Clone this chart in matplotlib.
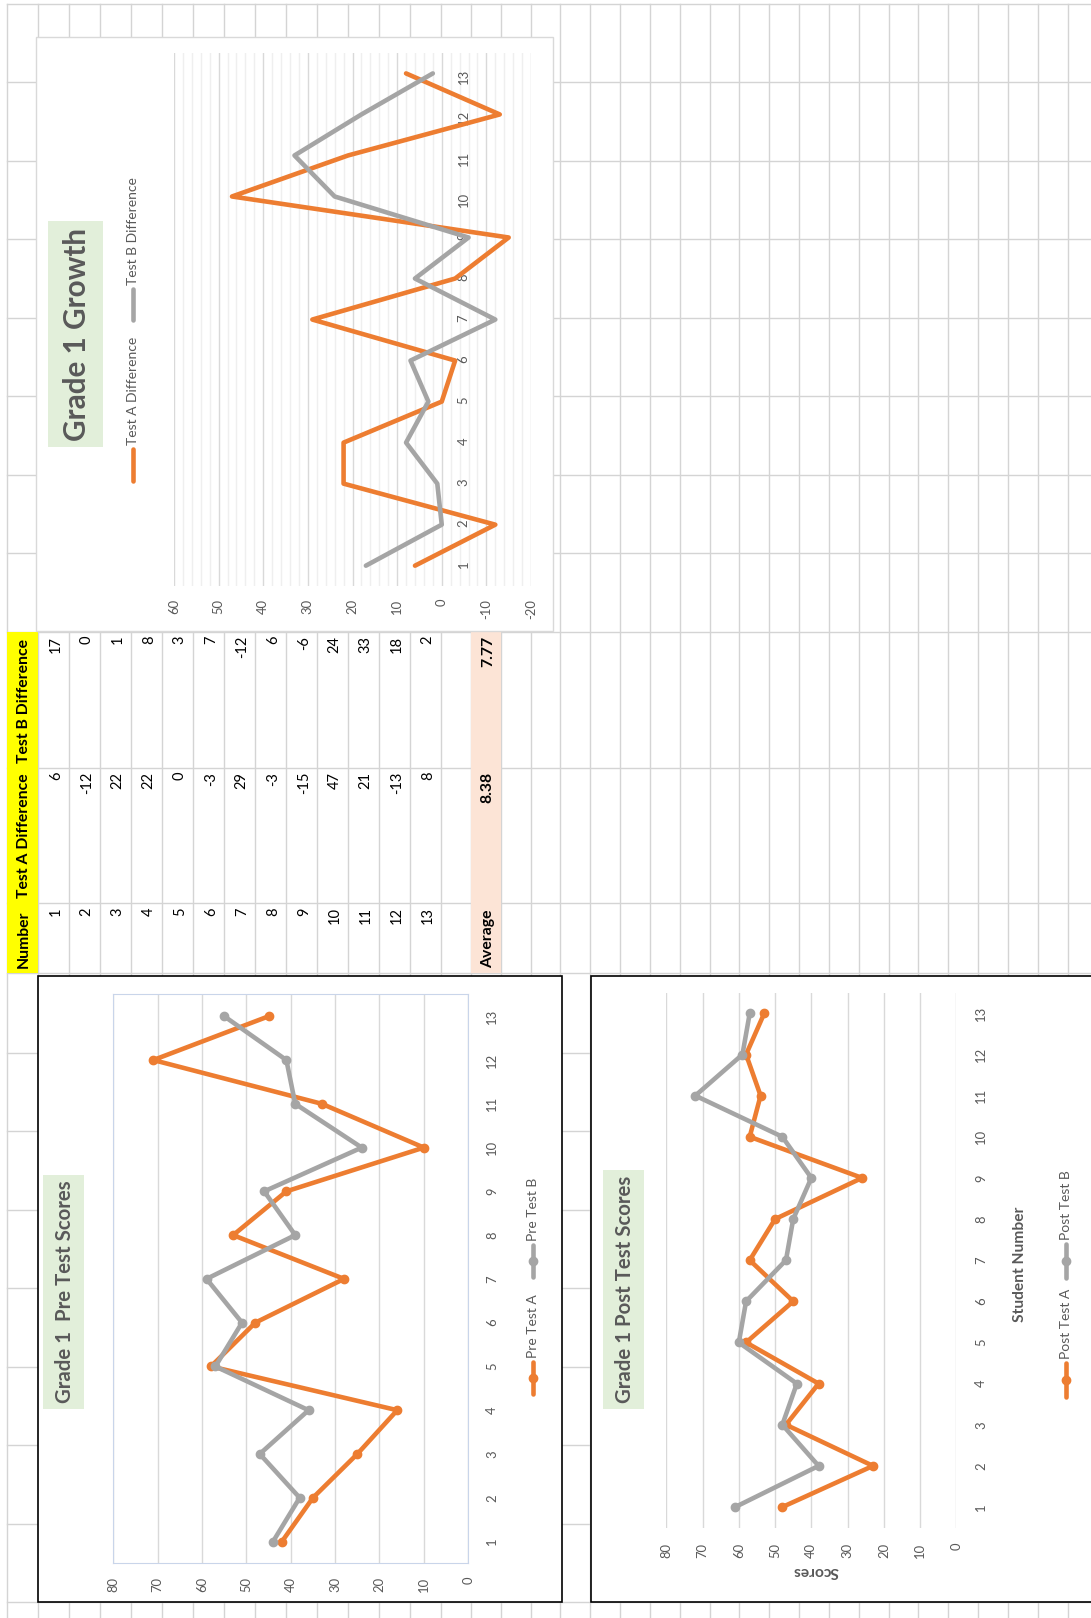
import numpy as np
import matplotlib.pyplot as plt
from matplotlib.patches import Rectangle

plt.rcParams['font.family'] = ['Lato', 'DejaVu Sans']
plt.rcParams['axes.unicode_minus'] = False

W, H = 1091, 1618

# ---- data ----
students = list(range(1, 14))
pre_a = [42, 35, 25, 16, 58, 48, 28, 53, 41, 10, 33, 71, 45]
pre_b = [44, 38, 47, 36, 57, 51, 59, 39, 46, 24, 39, 41, 55]
post_a = [48, 23, 47, 38, 58, 45, 57, 50, 26, 57, 54, 58, 53]
post_b = [61, 38, 48, 44, 60, 58, 47, 45, 40, 48, 72, 59, 57]
diff_a = [6, -12, 22, 22, 0, -3, 29, -3, -15, 47, 21, -13, 8]
diff_b = [17, 0, 1, 8, 3, 7, -12, 6, -6, 24, 33, 18, 2]
headers = ["Number", "Test A Difference", "Test B Difference"]

ORANGE = "#ED7D31"
GRAY = "#A5A5A5"
TXT = "#595959"
GRID = "#D4D4D4"

fig = plt.figure(figsize=(W / 100, H / 100), dpi=100)
renderer = fig.canvas.get_renderer()


def size_for(text, length, weight='normal', probe=20):
    # font size that makes `text` about `length` pixels long
    t = fig.text(0, 0, text, fontsize=probe, fontweight=weight)
    w = t.get_window_extent(renderer).width
    t.remove()
    return probe * length / w


bg = fig.add_axes([0, 0, 1, 1])
bg.set_xlim(0, W)
bg.set_ylim(H, 0)
bg.axis('off')

# spreadsheet grid (sheet is shown rotated 90 deg)
row_x = np.r_[7, 38.3 + 31.0 * np.arange(14), 470.9 + 29.83 * np.arange(21)]
col_y = np.r_[3.5 + 78.53 * np.arange(9), 767.7, 903.3, 973.3, 1052.6 + 78.5 * np.arange(8)]
for x in row_x:
    bg.plot([x, x], [col_y[0], H], color=GRID, lw=1.0, zorder=1)
for y in col_y:
    bg.plot([row_x[0], W], [y, y], color=GRID, lw=1.0, zorder=1)

# table
cell_fs = size_for("17", 17)
head_fs = size_for("Test A Difference", 124, 'bold')
bands = [(903.3, 973.3), (767.7, 903.3), (631.7, 767.7)]  # Number, Test A, Test B
bg.add_patch(Rectangle((row_x[0], 631.7), row_x[1] - row_x[0], 973.3 - 631.7,
                       fc="#FFFF00", ec="none", zorder=2))
bg.add_patch(Rectangle((row_x[15], 631.7), row_x[16] - row_x[15], 973.3 - 631.7,
                       fc="#FCE4D6", ec="none", zorder=2))
hx = (row_x[0] + row_x[1]) / 2 + 1
for (top, bot), name in zip(bands, headers):
    bg.text(hx, bot - 5, name, rotation=90, ha='center', va='bottom',
            fontsize=head_fs, fontweight='bold', zorder=3)
for i, (n, a, b) in enumerate(zip(students, diff_a, diff_b)):
    cx = (row_x[i + 1] + row_x[i + 2]) / 2 + 2
    for (top, bot), v in zip(bands, [n, a, b]):
        bg.text(cx, top + 4, str(v), rotation=90, ha='center', va='top',
                fontsize=cell_fs, zorder=3)
ax_avg = (row_x[15] + row_x[16]) / 2 + 2
bg.text(ax_avg, bands[0][1] - 5, "Average", rotation=90, ha='center', va='bottom',
        fontsize=head_fs, fontweight='bold', zorder=3)
for (top, bot), vals in zip(bands[1:], [diff_a, diff_b]):
    bg.text(ax_avg, top + 4, f"{np.mean(vals):.2f}", rotation=90, ha='center',
            va='top', fontsize=head_fs, fontweight='bold', zorder=3)

# chart frames
bg.add_patch(Rectangle((36, 37), 517, 594, fc='white', ec='#D9D9D9', lw=1, zorder=3))
bg.add_patch(Rectangle((38.3, 976), 524.1, 626, fc='white', ec='black', lw=1.2, zorder=3))
bg.add_patch(Rectangle((591, 976), 520, 626, fc='white', ec='black', lw=1.2, zorder=3))

tick_fs = size_for("13", 15)
leg_fs = size_for("Pre Test A", 64)


def title_box(x0, y0, x1, y1, text, length):
    bg.add_patch(Rectangle((x0, y0), x1 - x0, y1 - y0, fc="#E2EFDA", ec='none', zorder=4))
    bg.text((x0 + x1) / 2 + 2, (y0 + y1) / 2, text, rotation=90, ha='center', va='center',
            fontsize=size_for(text, length, 'bold'), fontweight='bold', color=TXT, zorder=5)


def legend_entry(x, y0, y1, color, label, marker):
    bg.plot([x, x], [y0, y1], color=color, lw=3.3, solid_capstyle='round', zorder=5)
    if marker:
        bg.plot([x], [(y0 + y1) / 2], 'o', color=color, ms=6, zorder=5)
    bg.text(x, y0 - 4, label, rotation=90, ha='center', va='bottom',
            fontsize=leg_fs, color=TXT, zorder=5)


def px_axes(x0, y0, x1, y1):
    a = fig.add_axes([x0 / W, 1 - y1 / H, (x1 - x0) / W, (y1 - y0) / H])
    a.set_facecolor('none')
    return a


def style(a, xmax, xmin, xpad, ypad, step=10):
    a.set_xlim(xmax, xmin)
    a.set_ylim(0.5, 13.5)
    a.set_xticks(np.arange(xmin, xmax + 1, step))
    a.set_yticks(students)
    a.yaxis.tick_right()
    a.tick_params(axis='x', length=0, labelrotation=90, pad=xpad, labelsize=tick_fs, labelcolor=TXT)
    a.tick_params(axis='y', length=0, labelrotation=90, pad=ypad, labelsize=tick_fs, labelcolor=TXT)
    for lbl in a.get_yticklabels():
        lbl.set_va('center')
    a.grid(axis='x', which='major', color='#D9D9D9', lw=1.0)
    a.set_axisbelow(True)
    for s in a.spines.values():
        s.set_visible(False)


# ---- Grade 1 Growth ----
title_box(48, 221, 103, 447, "Grade 1 Growth", 213)
legend_entry(133, 449, 481, ORANGE, "Test A Difference", False)
legend_entry(133, 289, 320, GRAY, "Test B Difference", False)
g = px_axes(174, 52.9, 531, 586.2)
style(g, 60, -20, 9, 11.5)
g.set_xticks(np.arange(-20, 61, 2), minor=True)
g.tick_params(which='minor', length=0)
g.grid(axis='x', which='minor', color='#EFEFEF', lw=1.0)
g.spines['right'].set_position(('data', 0))
g.plot(diff_a, students, color=ORANGE, lw=3.3, solid_capstyle='round', solid_joinstyle='round')
g.plot(diff_b, students, color=GRAY, lw=3.3, solid_capstyle='round', solid_joinstyle='round')

# ---- Grade 1 Pre Test Scores ----
title_box(43, 1175, 83.6, 1409, "Grade 1  Pre Test Scores", 223)
legend_entry(533, 1362, 1394, ORANGE, "Pre Test A", True)
legend_entry(533, 1245, 1277, GRAY, "Pre Test B", True)
p = px_axes(113.4, 994.4, 468.2, 1563.4)
style(p, 80, 0, 9.5, 13)
for s in p.spines.values():
    s.set_visible(True)
    s.set_color('#C9D5EA')
    s.set_linewidth(0.8)
p.plot(pre_a, students, color=ORANGE, lw=3.3, marker='o', ms=6, solid_capstyle='round')
p.plot(pre_b, students, color=GRAY, lw=3.3, marker='o', ms=6, solid_capstyle='round')

# ---- Grade 1 Post Test Scores ----
title_box(603, 1170, 643.8, 1409, "Grade 1 Post Test Scores", 227)
legend_entry(1066, 1363, 1397, ORANGE, "Post Test A", True)
legend_entry(1066, 1244, 1278, GRAY, "Post Test B", True)
ax_fs = size_for("Student Number", 115, 'bold')
bg.text(1020, 1264.5, "Student Number", rotation=90, ha='center', va='center',
        fontsize=ax_fs, fontweight='bold', color=TXT, zorder=5)
bg.text(816, 1571, "Scores", rotation=180, ha='center', va='center',
        fontsize=ax_fs, fontweight='bold', color=TXT, zorder=5)
q = px_axes(666.3, 992.8, 956.4, 1527.6)
style(q, 80, 0, 11, 13.5)
q.plot(post_a, students, color=ORANGE, lw=3.3, marker='o', ms=6, solid_capstyle='round')
q.plot(post_b, students, color=GRAY, lw=3.3, marker='o', ms=6, solid_capstyle='round')

fig.savefig("out.png", dpi=100)
